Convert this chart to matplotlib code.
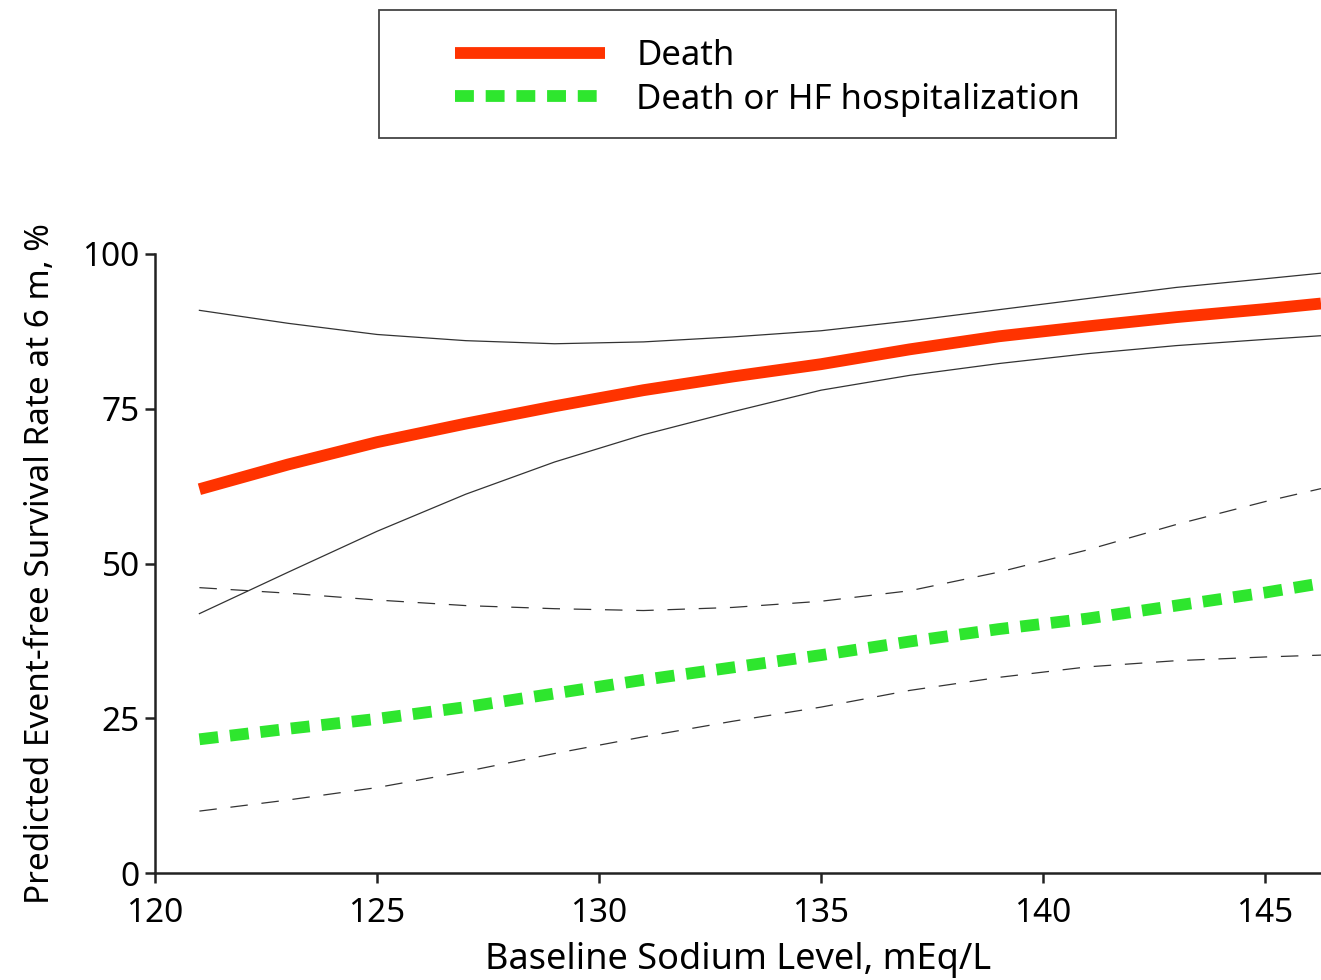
import matplotlib.pyplot as plt
from matplotlib.patches import Rectangle

plt.rcParams['font.family'] = ['Noto Sans', 'DejaVu Sans']

sodium = [121, 123, 125, 127, 129, 131, 133, 135, 137, 139, 141, 143, 145, 146.26]

# Death: estimate and 95% CI
death = [62.0, 66.0, 69.6, 72.6, 75.4, 78.0, 80.2, 82.2, 84.6, 86.7, 88.3, 89.8, 91.1, 92.0]
death_hi = [90.9, 88.8, 87.0, 86.0, 85.5, 85.8, 86.6, 87.6, 89.2, 91.0, 92.8, 94.6, 96.0, 96.9]
death_lo = [41.9, 48.6, 55.2, 61.2, 66.4, 70.8, 74.5, 78.0, 80.4, 82.3, 83.9, 85.2, 86.2, 86.8]

# Death or HF hospitalization: estimate and 95% CI
hosp = [21.6, 23.3, 24.9, 26.8, 29.0, 31.2, 33.2, 35.2, 37.4, 39.4, 41.1, 43.2, 45.3, 46.8]
hosp_hi = [46.1, 45.2, 44.1, 43.2, 42.7, 42.4, 42.9, 43.9, 45.6, 48.6, 52.2, 56.3, 60.0, 62.1]
hosp_lo = [10.0, 11.8, 13.8, 16.4, 19.3, 22.0, 24.5, 26.8, 29.5, 31.6, 33.3, 34.3, 34.9, 35.2]

fig = plt.figure(figsize=(13.21, 9.8), dpi=100)
ax = fig.add_axes([155 / 1321, 1 - 873 / 980, 1 - 155 / 1321, (873 - 254) / 980])

ax.plot(sodium, death_hi, color='#333333', lw=0.9)
ax.plot(sodium, death_lo, color='#333333', lw=0.9)
ax.plot(sodium, hosp_hi, color='#333333', lw=0.9, dashes=(14, 11))
ax.plot(sodium, hosp_lo, color='#333333', lw=0.9, dashes=(14, 11))

ax.plot(sodium, death, color='#ff3300', lw=8.5, solid_capstyle='butt', label='Death')
ax.plot(sodium, hosp, color='#2ee62e', lw=8.5, dashes=(1.6, 1.0),
        dash_capstyle='butt', label='Death or HF hospitalization')

ax.set_xlim(120, 146.26)
ax.set_ylim(0, 100)
ax.set_xticks([120, 125, 130, 135, 140, 145])
ax.set_yticks([0, 25, 50, 75, 100])
ax.spines['top'].set_visible(False)
ax.spines['right'].set_visible(False)
for side in ['left', 'bottom']:
    ax.spines[side].set_linewidth(1.8)
    ax.spines[side].set_color('#222222')
ax.tick_params(direction='out', length=7, width=1.8, labelsize=24, color='#222222')
ax.tick_params(axis='x', pad=10)
ax.tick_params(axis='y', pad=4)

ax.set_xlabel('Baseline Sodium Level, mEq/L', fontsize=26, labelpad=9)
ax.set_ylabel('Predicted Event-free Survival Rate at 6 m, %', fontsize=24, labelpad=18)

# legend box at the top
fig.patches.append(Rectangle((379 / 1321, 1 - 138 / 980), (1116 - 379) / 1321, 128 / 980,
                             transform=fig.transFigure, facecolor='white',
                             edgecolor='#444444', lw=1.3))
fig.legend(loc='upper left', bbox_to_anchor=(424 / 1321, 1 - 8 / 980), frameon=False,
           fontsize=25, handlelength=4.3, handletextpad=0.92, labelspacing=0.27)

fig.savefig('out.png', dpi=100)
